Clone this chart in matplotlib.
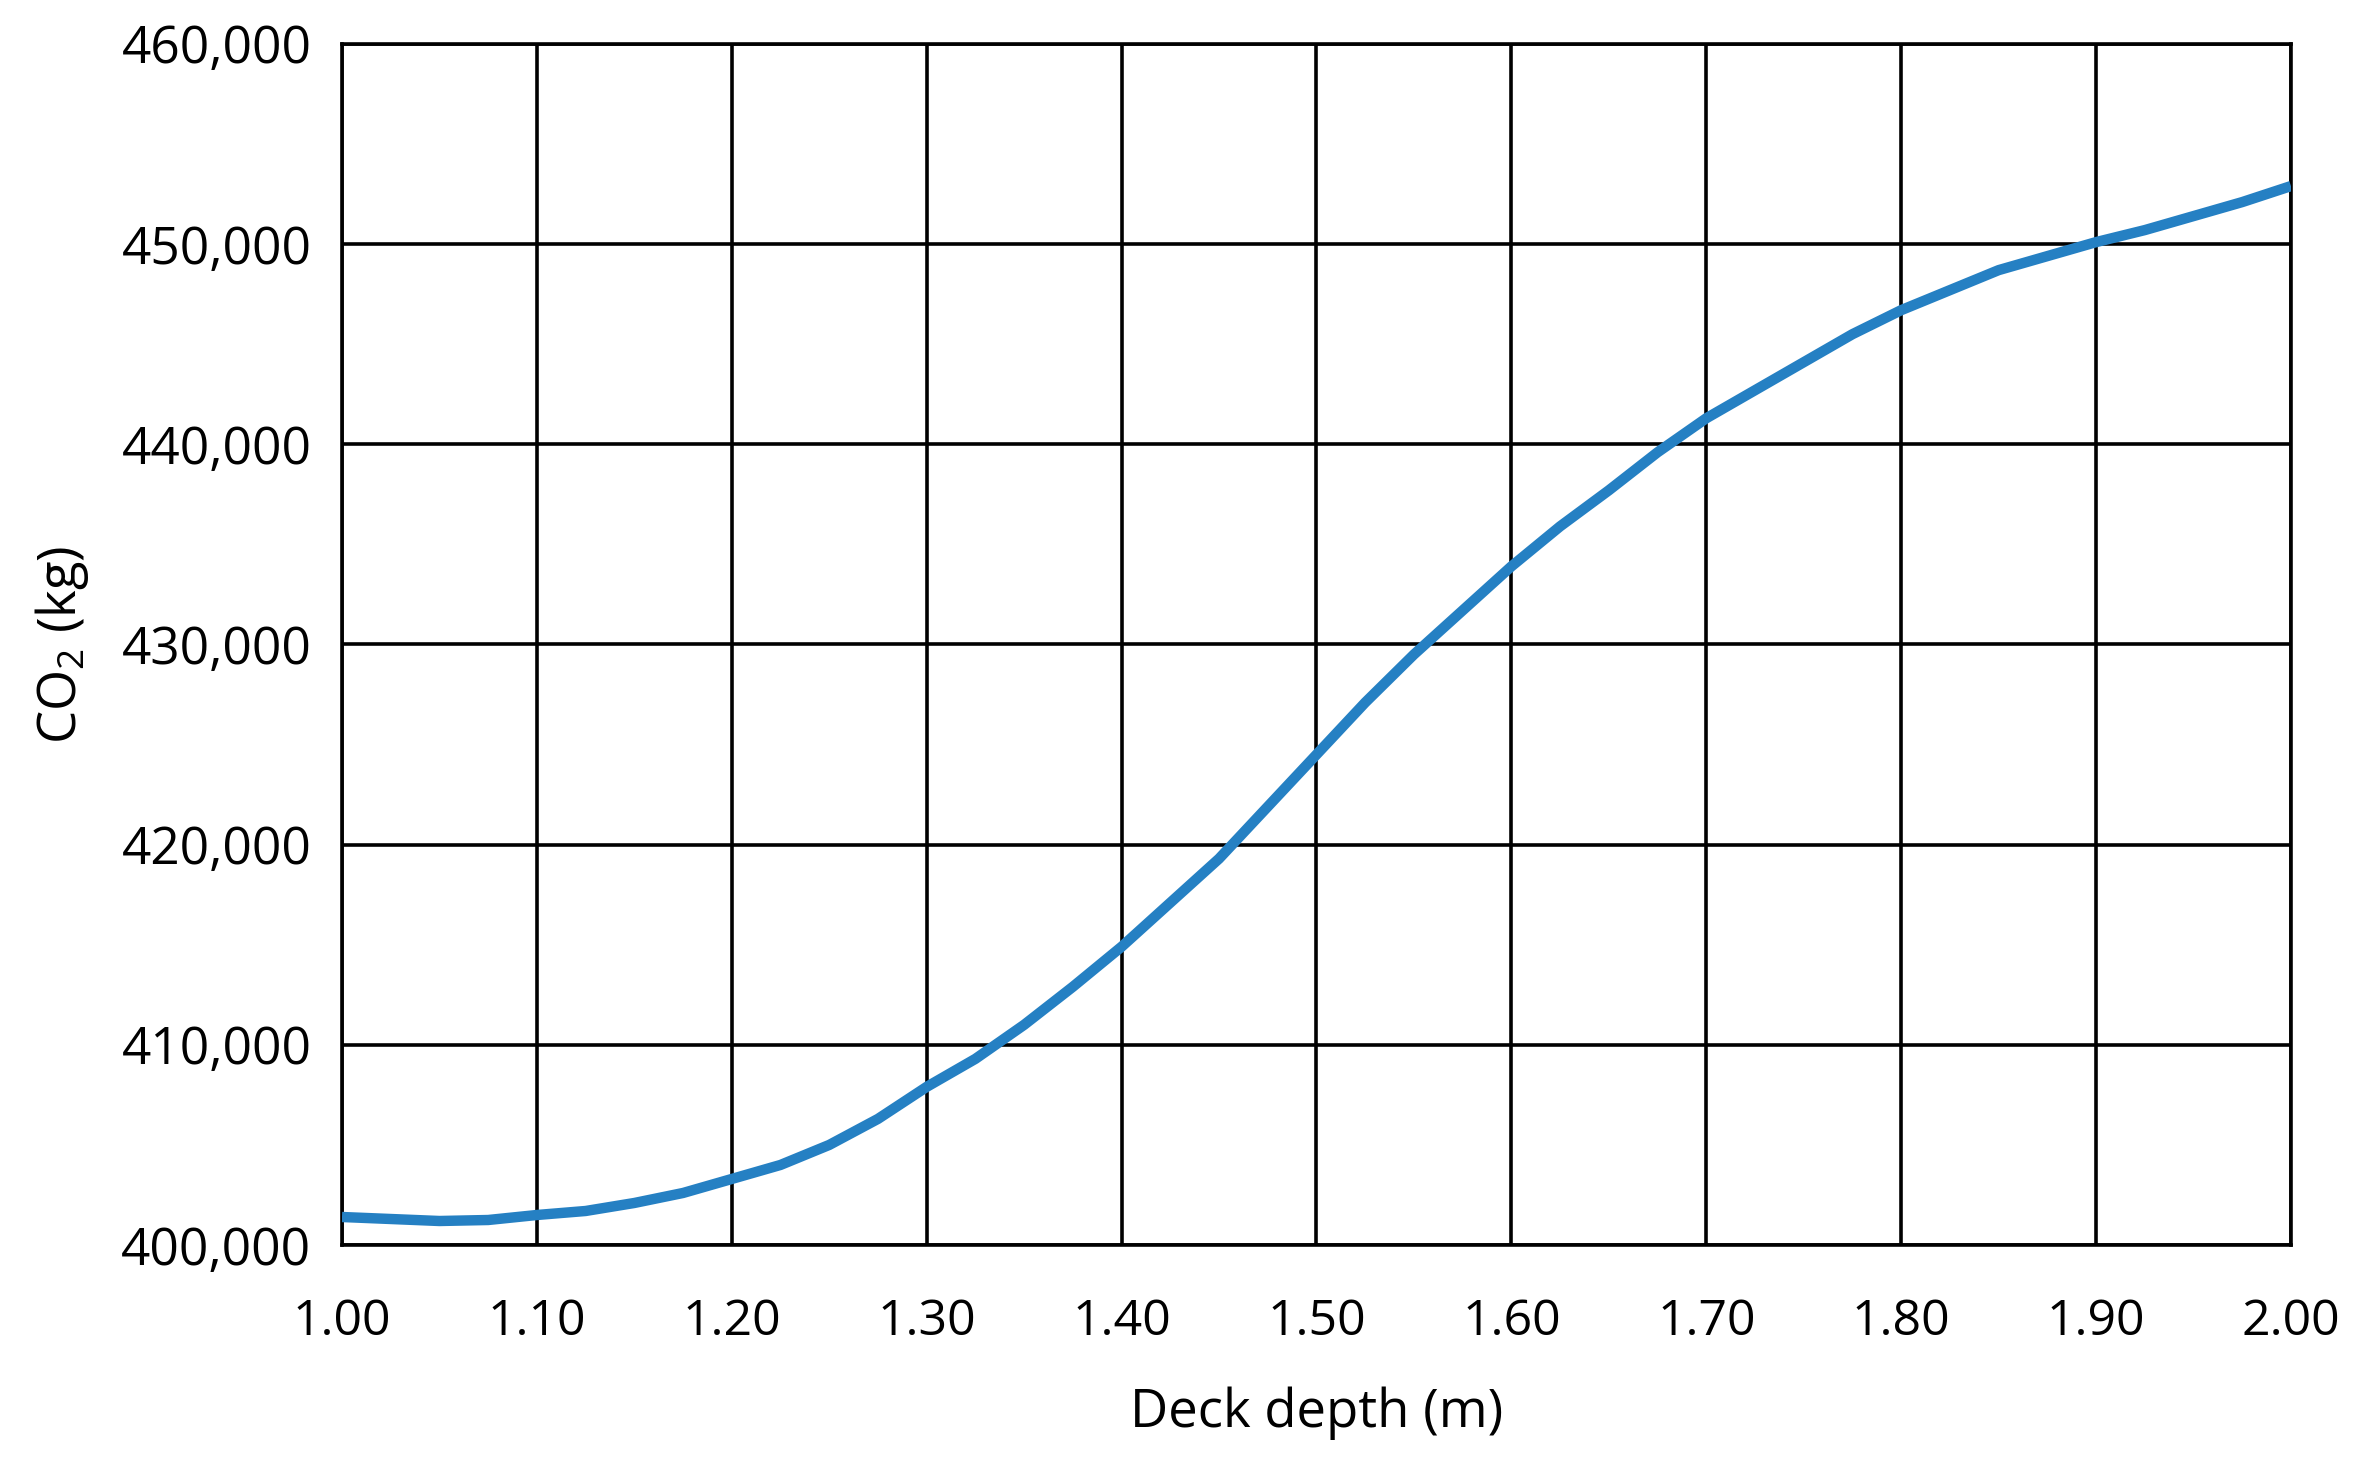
import numpy as np
import matplotlib
matplotlib.use("Agg")
import matplotlib.pyplot as plt

# deck depth (m) vs embodied CO2 (kg)
depth = [1.000, 1.025, 1.050, 1.075, 1.100, 1.125, 1.150, 1.175, 1.200, 1.225,
         1.250, 1.275, 1.300, 1.325, 1.350, 1.375, 1.400, 1.425, 1.450, 1.475,
         1.500, 1.525, 1.550, 1.575, 1.600, 1.625, 1.650, 1.675, 1.700, 1.725,
         1.750, 1.775, 1.800, 1.825, 1.850, 1.875, 1.900, 1.925, 1.950, 1.975,
         2.000]
co2 = [401400, 401300, 401200, 401250, 401500, 401700, 402100, 402600, 403300, 404000,
       405000, 406300, 407900, 409300, 411000, 412900, 414900, 417100, 419300, 421900,
       424500, 427100, 429500, 431700, 433900, 435900, 437700, 439600, 441300, 442700,
       444100, 445500, 446700, 447700, 448700, 449400, 450100, 450700, 451400, 452100,
       452900]

x_ticks = [1.0 + 0.1 * i for i in range(11)]
y_ticks = [400000, 410000, 420000, 430000, 440000, 450000, 460000]

plt.rcParams['font.family'] = ['Open Sans', 'DejaVu Sans']
plt.rcParams['mathtext.fontset'] = 'custom'
plt.rcParams['mathtext.rm'] = 'Open Sans'

fig = plt.figure(figsize=(23.65, 14.79), dpi=100)
ax = fig.add_axes([0.1446, 0.1582, 0.8241, 0.8121])

ax.plot(depth, co2, color='#2580c3', linewidth=7.5, solid_capstyle='butt',
        solid_joinstyle='round', zorder=3)

ax.set_xlim(1.0, 2.0)
ax.set_ylim(400000, 460000)
ax.set_xticks(x_ticks)
ax.set_yticks(y_ticks)
ax.set_xticklabels(['%.2f' % v for v in x_ticks])
ax.set_yticklabels(['{:,}'.format(v) for v in y_ticks])

ax.grid(True, color='black', linewidth=2.6)
ax.set_axisbelow(True)
for s in ax.spines.values():
    s.set_linewidth(2.6)
    s.set_color('black')

ax.tick_params(axis='x', length=0, pad=38, labelsize=36)
ax.tick_params(axis='y', length=0, pad=22, labelsize=37)

ax.set_xlabel('Deck depth (m)', fontsize=38, labelpad=28)
ax.set_ylabel(r'CO$_\mathregular{2}$ (kg)', fontsize=38, labelpad=22)

fig.savefig('out.png', dpi=100, facecolor='white')
